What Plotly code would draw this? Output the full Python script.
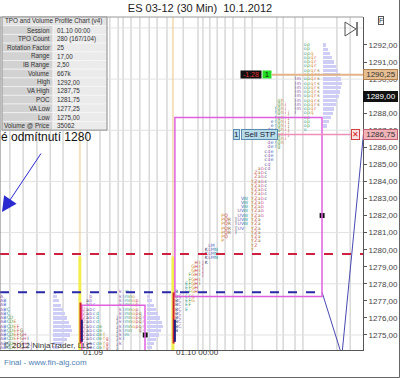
import plotly.graph_objects as go

# ---------------- data ----------------
title_text = "ES 03-12 (30 Min)  10.1.2012"

tick_prices = [1275, 1276, 1277, 1278, 1279, 1280, 1281, 1282, 1283,
               1284, 1285, 1286, 1287, 1288, 1289, 1290, 1291, 1292]
grid_prices = [1275, 1278, 1281, 1284, 1287, 1290, 1293]

stat_labels = ["Session", "TPO Count", "Rotation Factor", "Range", "IB Range", "Volume",
               "High", "VA High", "POC", "VA Low", "Low", "Volume @ Price"]
stat_values = ["01.10 00:00", "280 (167/104)", "25", "17,00", "2,50", "667k",
               "1292,00", "1287,75", "1281,75", "1277,25", "1275,00", "35062"]
table_header = "TPO and Volume Profile Chart (v4)"

session_names = ["01.09", "01.10 00:00"]
session_cols = [24.4, 52.6]

# TPO columns (column slot, low price, high price)
tpo_col = [0, 1, 2, 3, 4, 5, 6, 7, 8, 9,
           25, 26, 27, 28, 29, 30, 31, 32, 35, 36, 37, 38, 39, 40, 41, 42, 43,
           53, 54, 56, 57, 58, 59, 60, 61, 62, 63, 64, 65, 67, 68, 69, 71, 72, 73, 74,
           76, 77, 78, 79, 80, 81, 82, 83, 84, 85, 86, 87, 89, 90, 92, 93, 94, 95, 96]
tpo_low = [1274.25, 1274.25, 1274.25, 1274.25, 1274.25, 1274.25, 1274.25, 1274.25, 1274.25, 1274.25,
           1274.25, 1274.25, 1274.25, 1274.25, 1274.25, 1274.25, 1274.25, 1274.25, 1274.25, 1274.5,
           1274.75, 1275.0, 1275.25, 1275.5, 1275.5, 1275.25, 1275.25,
           1275.25, 1275.5, 1276.5, 1276.75, 1277.0, 1277.5, 1278.0, 1278.5, 1279.25, 1279.5, 1279.5,
           1279.5, 1280.5, 1280.75, 1281.0, 1281.0, 1281.25, 1281.25, 1281.5,
           1280.0, 1280.25, 1280.5, 1282.0, 1283.0, 1284.75, 1285.25, 1286.0, 1286.0, 1286.25,
           1286.5, 1286.75, 1288.0, 1288.25, 1287.0, 1287.25, 1288.0, 1288.25, 1288.5]
tpo_high = [1277.25, 1277.0, 1276.5, 1276.0, 1275.75, 1275.5, 1275.25, 1275.0, 1274.75, 1274.5,
            1276.5, 1277.0, 1277.25, 1276.75, 1276.25, 1275.5, 1275.0, 1274.75, 1276.0, 1277.5,
            1277.25, 1277.5, 1277.25, 1277.25, 1277.0, 1276.25, 1276.0,
            1277.5, 1277.25, 1278.0, 1278.5, 1279.0, 1279.25, 1279.25, 1279.25, 1280.0, 1280.25,
            1280.25, 1280.0, 1282.0, 1282.0, 1281.75, 1281.75, 1282.25, 1283.0, 1283.0,
            1284.0, 1284.5, 1284.75, 1284.75, 1285.75, 1287.0, 1287.5, 1288.25, 1288.75, 1288.75,
            1288.5, 1288.0, 1290.0, 1290.0, 1292.0, 1292.0, 1291.5, 1291.25, 1290.5]
tpo_letters = "ABCDEFGHIJKLMNOPQRSTUVWXYZabcdefghijklmnopqrstuvwxyz"

# volume profiles
vp_a_prices = [1274.25, 1274.5, 1274.75, 1275.0, 1275.25, 1275.5, 1275.75, 1276.0, 1276.25,
               1276.5, 1276.75, 1277.0, 1277.25, 1277.5]
vp_a_vol = [6, 10, 14, 17, 19, 18, 16, 14, 12, 10, 8, 6, 4, 3]
vp_b_prices = [1274.25, 1274.5, 1274.75, 1275.0, 1275.25, 1275.5, 1275.75, 1276.0, 1276.25,
               1276.5, 1276.75, 1277.0, 1277.25]
vp_b_vol = [5, 7, 9, 12, 14, 16, 15, 13, 11, 9, 7, 5, 3]
vp_c_prices = [1287.25, 1287.5, 1287.75, 1288.0, 1288.25, 1288.5, 1288.75, 1289.0, 1289.25,
               1289.5, 1289.75, 1290.0, 1290.25, 1290.5, 1290.75, 1291.0, 1291.25, 1291.5,
               1291.75, 1292.0]
vp_c_vol = [4, 6, 8, 10, 11, 13, 14, 16, 17, 18, 19, 18, 17, 15, 13, 11, 9, 7, 5, 3]
vp_base_cols = [16.0, 44.6, 97.8]

# levels
red_level = 1279.75
blue_level = 1277.5
va_0110 = (1277.25, 1287.75)
va_0109_high = 1276.75
last_price = 1290.25
bid_price = 1289.00
stop_price = 1286.75
close_marks_col = [44.0, 97.6]
close_marks_price = [1275.0, 1282.0]
price_path_col = [97.6, 103.6, 110.4]
price_path_price = [1277.5, 1273.8, 1287.3]

grid_cols = [3, 7, 11.2, 15.2, 19.1, 26.4, 30.3, 33.3, 35.8, 37.3, 39.7, 42.4, 45.2, 47.6, 50.6,
             55.5, 60, 61.5, 63.6, 65.8, 68.2, 70.6, 74.2, 76.4, 83.9, 85.8, 89.4, 91.8, 102.1, 106.1]

# ---------------- layout helpers ----------------
W, H = 400, 378
ML, MR, MT, MB = 0, 37, 17, 28
PW, PH = W - ML - MR, H - MT - MB
YMIN, YMAX = 1274.12, 1293.64
XMAX = 110.0
FONT = "Liberation Sans, Arial, sans-serif"


def pxx(px):
    return (px - ML) / PW


def pyy(py):
    return (H - MB - py) / PH


def pxcol(px):
    return px / PW * XMAX


def fmt(p):
    return f"{p:.2f}".replace(".", ",")


fig = go.Figure()
shapes = []
ann = []

# grid
for c in grid_cols:
    shapes.append(dict(type="line", xref="x", yref="paper", x0=c, x1=c, y0=0, y1=1,
                       line=dict(color="#c4c4c4", width=1), layer="below"))
for g in grid_prices:
    shapes.append(dict(type="line", xref="paper", yref="y", x0=0, x1=1, y0=g, y1=g,
                       line=dict(color="#e2e2e2", width=1), layer="below"))

# session separators
for c in session_cols:
    shapes.append(dict(type="line", xref="x", yref="paper", x0=c - 0.2, x1=c - 0.2, y0=0, y1=1,
                       line=dict(color="rgba(235,200,140,0.55)", width=2), layer="below"))
    shapes.append(dict(type="line", xref="x", yref="y", x0=c - 0.2, x1=c - 0.2, y0=YMIN, y1=1279.6,
                       line=dict(color="#f2ee50", width=3), layer="below"))

# volume profiles
for prices, vols, base in [(vp_a_prices, vp_a_vol, vp_base_cols[0]),
                           (vp_b_prices, vp_b_vol, vp_base_cols[1]),
                           (vp_c_prices, vp_c_vol, vp_base_cols[2])]:
    fig.add_trace(go.Bar(orientation="h", y=prices, x=[v / 3.3 for v in vols], base=base,
                         width=0.19, marker=dict(color="#cdcdf5", line=dict(width=0)),
                         hoverinfo="skip", showlegend=False))

# TPO letters
palette = ["#8a4fa8", "#3b5cc4", "#2a9a9a", "#4a9a3a", "#d08a2a", "#c83a3a", "#8a6a2a", "#d05a9a", "#333366"]
tx, ty, tt, tc = [], [], [], []
for k, c in enumerate(tpo_col):
    n = int(round((tpo_high[k] - tpo_low[k]) / 0.25))
    for j in range(n + 1):
        tx.append(c + 0.5)
        ty.append(tpo_low[k] + 0.25 * j)
        tt.append(tpo_letters[c % len(tpo_letters)])
        tc.append(palette[c % len(palette)])
fig.add_trace(go.Scatter(x=tx, y=ty, mode="text", text=tt,
                         textfont=dict(size=4.6, color=tc, family="DejaVu Sans"),
                         hoverinfo="skip", showlegend=False))

# value area boxes
va_col0, va_col1 = session_cols[1] + 0.4, pxcol(322)
shapes.append(dict(type="rect", xref="x", yref="y", x0=va_col0, x1=va_col1, y0=va_0110[0], y1=va_0110[1],
                   line=dict(color="#e060e0", width=1.5)))
shapes.append(dict(type="rect", xref="x", yref="y", x0=session_cols[0] + 0.4, x1=pxcol(145),
                   y0=1273.0, y1=va_0109_high, line=dict(color="#e060e0", width=1.5)))

# session red / navy markers
for c, top in zip(session_cols, [1276.9, 1277.5]):
    shapes.append(dict(type="line", xref="x", yref="y", x0=c, x1=c, y0=1274.5, y1=top,
                       line=dict(color="#d02030", width=2)))
    shapes.append(dict(type="line", xref="x", yref="y", x0=c + 0.4, x1=c + 0.4, y0=1274.6, y1=1275.9,
                       line=dict(color="#202080", width=2)))

# key level dashed lines
shapes.append(dict(type="line", xref="paper", yref="y", x0=0, x1=1, y0=red_level, y1=red_level,
                   line=dict(color="#d02040", width=2, dash="dash")))
shapes.append(dict(type="line", xref="x", yref="y", x0=0, x1=pxcol(318), y0=blue_level, y1=blue_level,
                   line=dict(color="#2828a8", width=2, dash="dash")))

# order / price lines
shapes.append(dict(type="line", xref="x", yref="y", x0=pxcol(272), x1=XMAX, y0=last_price, y1=last_price,
                   line=dict(color="#e2b488", width=2)))
shapes.append(dict(type="line", xref="x", yref="y", x0=pxcol(268), x1=pxcol(351), y0=stop_price, y1=stop_price,
                   line=dict(color="#f090b8", width=1.5)))

fig.add_trace(go.Scatter(x=price_path_col, y=price_path_price, mode="lines",
                         line=dict(color="#4848b0", width=1), hoverinfo="skip", showlegend=False))
fig.add_trace(go.Scatter(x=close_marks_col, y=close_marks_price, mode="markers",
                         marker=dict(symbol="square", size=6, color="#111", line=dict(color="#fff", width=1)),
                         hoverinfo="skip", showlegend=False))

# plot frame & outer frame
shapes.append(dict(type="line", xref="paper", yref="paper", x0=0, x1=1, y0=1, y1=1,
                   line=dict(color="#999", width=1)))
shapes.append(dict(type="line", xref="paper", yref="paper", x0=0, x1=0, y0=0, y1=1,
                   line=dict(color="#777", width=1)))
shapes.append(dict(type="line", xref="paper", yref="paper", x0=pxx(0), x1=pxx(399.5),
                   y0=pyy(377.5), y1=pyy(377.5), line=dict(color="#666", width=1)))
shapes.append(dict(type="line", xref="paper", yref="paper", x0=pxx(399.5), x1=pxx(399.5),
                   y0=pyy(377.5), y1=pyy(0), line=dict(color="#666", width=1)))

# stats table
tx0, tmid, tx1 = 2, 53, 107
ty0, rh = 17, 8.7
TF = 6.3
shapes.append(dict(type="rect", xref="paper", yref="paper", x0=pxx(tx0), x1=pxx(tx1),
                   y0=pyy(ty0 + rh), y1=pyy(ty0), fillcolor="#e4e4e4", line=dict(color="#ffffff", width=0.5)))
ann.append(dict(xref="paper", yref="paper", x=pxx(tx0 + 1), y=pyy(ty0 + rh / 2), text=table_header,
                showarrow=False, xanchor="left", yanchor="middle", font=dict(size=TF, color="#333", family=FONT)))
for i, (lab, val) in enumerate(zip(stat_labels, stat_values)):
    top = ty0 + rh * (i + 1)
    shapes.append(dict(type="rect", xref="paper", yref="paper", x0=pxx(tx0), x1=pxx(tmid),
                       y0=pyy(top + rh), y1=pyy(top), fillcolor="#d2d2d2", line=dict(color="#f4f4f4", width=0.7)))
    shapes.append(dict(type="rect", xref="paper", yref="paper", x0=pxx(tmid), x1=pxx(tx1),
                       y0=pyy(top + rh), y1=pyy(top), fillcolor="#ebebeb", line=dict(color="#f8f8f8", width=0.7)))
    ann.append(dict(xref="paper", yref="paper", x=pxx(tmid - 1), y=pyy(top + rh / 2), text=lab,
                    showarrow=False, xanchor="right", yanchor="middle", font=dict(size=TF, color="#333", family=FONT)))
    ann.append(dict(xref="paper", yref="paper", x=pxx(tmid + 2), y=pyy(top + rh / 2), text=val,
                    showarrow=False, xanchor="left", yanchor="middle", font=dict(size=TF, color="#333", family=FONT)))
shapes.append(dict(type="rect", xref="paper", yref="paper", x0=pxx(tx0), x1=pxx(tx1),
                   y0=pyy(ty0 + rh * 13), y1=pyy(ty0), line=dict(color="#888", width=1)))

# session labels
for name, c in zip(session_names, session_cols):
    ann.append(dict(xref="x", yref="paper", x=c + 0.2, y=pyy(353), text=name, showarrow=False,
                    xanchor="left", yanchor="middle", font=dict(size=8, color="#333", family=FONT)))

# annotation text + arrow
ann.append(dict(xref="paper", yref="paper", x=pxx(-1), y=pyy(137), text="é odmítnutí 1280", showarrow=False,
                xanchor="left", yanchor="middle", font=dict(size=12, color="#111", family=FONT)))
ann.append(dict(xref="paper", yref="paper", x=pxx(2), y=pyy(212), ax=40, ay=-60, text="", showarrow=True,
                arrowhead=2, arrowsize=3, arrowwidth=1, arrowcolor="#2a2ad0"))

# price tags on axis
def tag(price, text, bg, fg, border):
    ann.append(dict(xref="paper", yref="y", x=1.0, y=price, text=text, showarrow=False,
                    xanchor="left", yanchor="middle", bgcolor=bg, bordercolor=border, borderwidth=1,
                    borderpad=0, font=dict(size=8, color=fg, family=FONT)))

tag(last_price, " " + fmt(last_price) + " ", "#e6be92", "#333", "#b08050")
tag(bid_price, " " + fmt(bid_price) + " ", "#111111", "#ffffff", "#111111")
tag(stop_price, " " + fmt(stop_price) + " ", "#f2b4b8", "#333", "#c06070")
ann.append(dict(xref="x", yref="y", x=pxcol(355), y=stop_price, text="✕", showarrow=False,
                xanchor="center", yanchor="middle", bgcolor="#fbe0e0", bordercolor="#d04040", borderwidth=1,
                borderpad=0, font=dict(size=8, color="#d02020", family="DejaVu Sans")))

# order labels
ann.append(dict(xref="x", yref="y", x=pxcol(240), y=stop_price, text="1", showarrow=False,
                xanchor="right", yanchor="middle", bgcolor="#b6dcea", bordercolor="#5a8ab0", borderwidth=1,
                borderpad=0, font=dict(size=8, color="#223", family=FONT)))
ann.append(dict(xref="x", yref="y", x=pxcol(241), y=stop_price, text=" Sell STP ", showarrow=False,
                xanchor="left", yanchor="middle", bgcolor="#b6dcea", bordercolor="#5a8ab0", borderwidth=1,
                borderpad=0, font=dict(size=8, color="#223", family=FONT)))
ann.append(dict(xref="x", yref="y", x=pxcol(262), y=last_price, text=" -1.28 ", showarrow=False,
                xanchor="right", yanchor="middle", bgcolor="#111111", borderpad=0,
                font=dict(size=7, color="#e03030", family=FONT)))
ann.append(dict(xref="x", yref="y", x=pxcol(262), y=last_price, text=" 1 ", showarrow=False,
                xanchor="left", yanchor="middle", bgcolor="#22dd22", borderpad=0,
                font=dict(size=7, color="#111", family=FONT)))

# play-to-end icon and F box
shapes.append(dict(type="path", xref="paper", yref="paper",
                   path=f"M {pxx(345)},{pyy(22)} L {pxx(356)},{pyy(29)} L {pxx(345)},{pyy(36)} Z",
                   line=dict(color="#555", width=1)))
shapes.append(dict(type="line", xref="paper", yref="paper", x0=pxx(357), x1=pxx(357), y0=pyy(22), y1=pyy(36),
                   line=dict(color="#555", width=1.5)))
ann.append(dict(xref="paper", yref="paper", x=pxx(381), y=pyy(21), text="F", showarrow=False,
                xanchor="center", yanchor="middle", bordercolor="#555", borderwidth=1, borderpad=0,
                bgcolor="#fff", font=dict(size=7, color="#333", family=FONT)))

# credits
ann.append(dict(xref="paper", yref="paper", x=pxx(2), y=pyy(345), text="© 2012 NinjaTrader, LLC",
                showarrow=False, xanchor="left", yanchor="middle", font=dict(size=8, color="#333", family=FONT)))
ann.append(dict(xref="paper", yref="paper", x=pxx(2), y=pyy(363), text="Final - www.fin-alg.com",
                showarrow=False, xanchor="left", yanchor="middle", font=dict(size=8, color="#4f82b4", family=FONT)))

fig.update_layout(
    width=W, height=H, margin=dict(l=ML, r=MR, t=MT, b=MB),
    paper_bgcolor="#ffffff", plot_bgcolor="#ffffff",
    barmode="overlay", bargap=0, showlegend=False,
    title=dict(text=title_text, x=0.5, xanchor="center", y=1 - 8 / H, yanchor="middle",
               font=dict(size=11, color="#222", family=FONT)),
    xaxis=dict(range=[0, XMAX], showticklabels=False, showgrid=False, zeroline=False,
               showline=True, linecolor="#555", linewidth=1, ticks="", fixedrange=True),
    yaxis=dict(range=[YMIN, YMAX], side="right", tickvals=tick_prices,
               ticktext=[fmt(p) for p in tick_prices], ticks="outside", ticklen=3, tickcolor="#555",
               tickfont=dict(size=8, color="#444", family=FONT), showgrid=False, zeroline=False,
               showline=True, linecolor="#555", linewidth=1, fixedrange=True),
    shapes=shapes, annotations=ann,
)

fig.write_html("out.html")
